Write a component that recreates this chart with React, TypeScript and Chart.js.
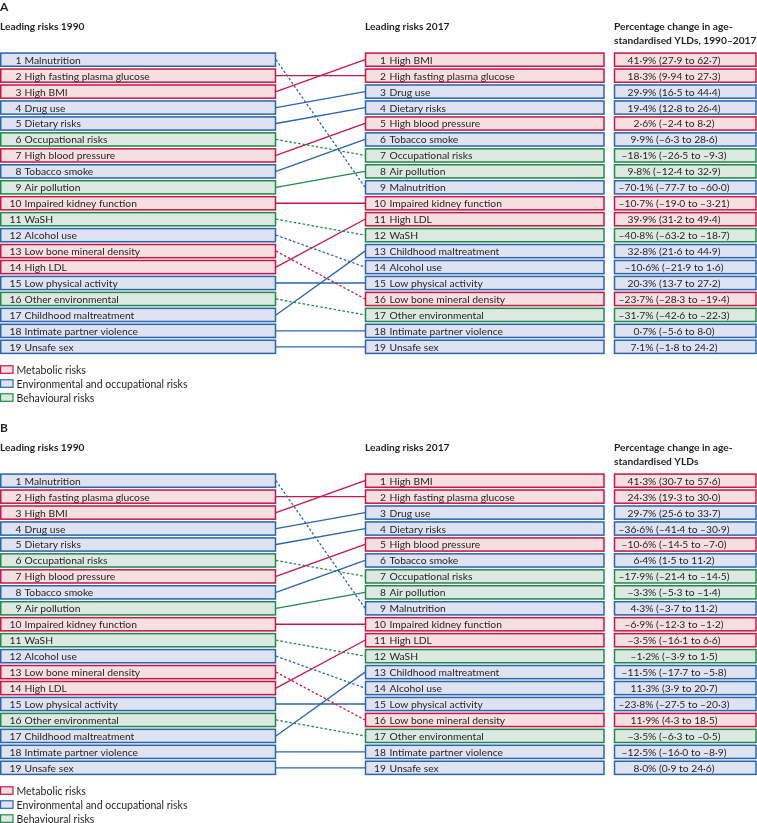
import React, { useEffect, useRef } from 'react';
import { Chart, registerables } from 'chart.js';

Chart.register(...registerables);

// ---------- DATA ----------
const risks1990 = [
  'Malnutrition', 'High fasting plasma glucose', 'High BMI', 'Drug use', 'Dietary risks',
  'Occupational risks', 'High blood pressure', 'Tobacco smoke', 'Air pollution',
  'Impaired kidney function', 'WaSH', 'Alcohol use', 'Low bone mineral density', 'High LDL',
  'Low physical activity', 'Other environmental', 'Childhood maltreatment',
  'Intimate partner violence', 'Unsafe sex',
];

const risks2017 = [
  'High BMI', 'High fasting plasma glucose', 'Drug use', 'Dietary risks', 'High blood pressure',
  'Tobacco smoke', 'Occupational risks', 'Air pollution', 'Malnutrition',
  'Impaired kidney function', 'High LDL', 'WaSH', 'Childhood maltreatment', 'Alcohol use',
  'Low physical activity', 'Low bone mineral density', 'Other environmental',
  'Intimate partner violence', 'Unsafe sex',
];

// colour groups as drawn in the figure
const redRisks = [
  'High fasting plasma glucose', 'High BMI', 'High blood pressure', 'Impaired kidney function',
  'Low bone mineral density', 'High LDL',
];
const greenRisks = ['Occupational risks', 'Air pollution', 'WaSH', 'Other environmental'];
// everything else is blue

const legendLabels = ['Metabolic risks', 'Environmental and occupational risks', 'Behavioural risks'];

// Panel A: percentage change 1990–2017 (2017 rank order)
const pctA = ['41.9', '18.3', '29.9', '19.4', '2.6', '9.9', '-18.1', '9.8', '-70.1', '-10.7',
  '39.9', '-40.8', '32.8', '-10.6', '20.3', '-23.7', '-31.7', '0.7', '7.1'];
const lowA = ['27.9', '9.94', '16.5', '12.8', '-2.4', '-6.3', '-26.5', '-12.4', '-77.7', '-19.0',
  '31.2', '-63.2', '21.6', '-21.9', '13.7', '-28.3', '-42.6', '-5.6', '-1.8'];
const highA = ['62.7', '27.3', '44.4', '26.4', '8.2', '28.6', '-9.3', '32.9', '-60.0', '-3.21',
  '49.4', '-18.7', '44.9', '1.6', '27.2', '-19.4', '-22.3', '8.0', '24.2'];

// Panel B
const pctB = ['41.3', '24.3', '29.7', '-36.6', '-10.6', '6.4', '-17.9', '-3.3', '4.3', '-6.9',
  '-3.5', '-1.2', '-11.5', '11.3', '-23.8', '11.9', '-3.5', '-12.5', '8.0'];
const lowB = ['30.7', '19.3', '25.6', '-41.4', '-14.5', '1.5', '-21.4', '-5.3', '-3.7', '-12.3',
  '-16.1', '-3.9', '-17.7', '3.9', '-27.5', '4.3', '-6.3', '-16.0', '0.9'];
const highB = ['57.6', '30.0', '33.7', '-30.9', '-7.0', '11.2', '-14.5', '-1.4', '11.2', '-1.2',
  '6.6', '1.5', '-5.8', '20.7', '-20.3', '18.5', '-0.5', '-8.9', '24.6'];

// ---------- STYLE / LAYOUT ----------
const W = 757;
const COLORS: Record<string, { line: string; fill: string }> = {
  red: { line: '#c8174a', fill: '#f6dfe1' },
  blue: { line: '#2866b1', fill: '#dfe2f0' },
  green: { line: '#1f8a4c', fill: '#dde9e0' },
};
const legendColors = ['red', 'blue', 'green'];
const FONT = 'Lato, "Open Sans", sans-serif';

const LEFT_BOX = [0.75, 275.5];
const MID_BOX = [365.5, 604];
const RIGHT_BOX = [614.5, 756];
const LINE_X0 = 276;
const LINE_X1 = 365;

function groupOf(name: string) {
  if (redRisks.includes(name)) return 'red';
  if (greenRisks.includes(name)) return 'green';
  return 'blue';
}
function fmt(s: string) {
  return s.replace('.', '·').replace('-', '–');
}

interface PanelProps {
  letter: string;
  header3: string[];
  pct: string[];
  low: string[];
  high: string[];
  height: number;
}

function Panel({ letter, header3, pct, low, high, height }: PanelProps) {
  const ref = useRef<HTMLCanvasElement | null>(null);
  useEffect(() => {
    const canvas = ref.current!;
    const datasets = risks1990.map((name, i) => {
      const r1 = i + 1;
      const r2 = risks2017.indexOf(name) + 1;
      const g = groupOf(name);
      return {
        label: name,
        data: [{ x: LINE_X0, y: r1 }, { x: LINE_X1, y: r2 }],
        borderColor: COLORS[g].line,
        borderWidth: 1.3,
        borderDash: r2 > r1 ? [2.5, 2] : [],
        pointRadius: 0,
        clip: false as any,
        fill: false,
      };
    });

    const boxesPlugin = {
      id: 'boxes',
      afterDatasetsDraw(chart: any) {
        const ctx = chart.ctx as CanvasRenderingContext2D;
        const y = chart.scales.y;
        const step = Math.abs(y.getPixelForValue(2) - y.getPixelForValue(1));
        const h = step - 1.3;
        ctx.save();
        const drawBox = (x0: number, x1: number, yc: number, g: string) => {
          ctx.fillStyle = COLORS[g].fill;
          ctx.fillRect(x0, yc - h / 2, x1 - x0, h);
          ctx.strokeStyle = COLORS[g].line;
          ctx.lineWidth = 1.5;
          ctx.strokeRect(x0, yc - h / 2 + 0.75, x1 - x0, h - 1.5);
        };
        ctx.font = `10.3px ${FONT}`;
        ctx.textBaseline = 'alphabetic';
        risks1990.forEach((name, i) => {
          const yc = y.getPixelForValue(i + 1);
          drawBox(LEFT_BOX[0], LEFT_BOX[1], yc, groupOf(name));
          ctx.fillStyle = '#231f20';
          ctx.textAlign = 'right';
          ctx.fillText(String(i + 1), 21.5, yc + 4);
          ctx.textAlign = 'left';
          ctx.fillText(name, 24.5, yc + 4);
        });
        risks2017.forEach((name, i) => {
          const yc = y.getPixelForValue(i + 1);
          const g = groupOf(name);
          drawBox(MID_BOX[0], MID_BOX[1], yc, g);
          drawBox(RIGHT_BOX[0], RIGHT_BOX[1], yc, g);
          ctx.fillStyle = '#231f20';
          ctx.textAlign = 'right';
          ctx.fillText(String(i + 1), 386, yc + 4);
          ctx.textAlign = 'left';
          ctx.fillText(name, 389.5, yc + 4);
          ctx.textAlign = 'center';
          ctx.fillText(`${fmt(pct[i])}% (${fmt(low[i])} to ${fmt(high[i])})`, 674, yc + 4);
        });
        // headers
        ctx.textAlign = 'left';
        ctx.fillStyle = '#231f20';
        ctx.font = `bold 12px ${FONT}`;
        ctx.fillText(letter, 0, 11);
        ctx.font = `bold 10.2px ${FONT}`;
        ctx.fillText('Leading risks 1990', 0, 29.5);
        ctx.fillText('Leading risks 2017', 365, 29.5);
        ctx.fillText(header3[0], 614, 29.5);
        ctx.fillText(header3[1], 614, 43.5);
        // legend
        const ly = y.getPixelForValue(19.5) + 11;
        ctx.font = `10.5px ${FONT}`;
        legendLabels.forEach((lab, k) => {
          const top = ly + k * 14;
          const c = COLORS[legendColors[k]];
          ctx.fillStyle = c.fill;
          ctx.fillRect(0.6, top, 12.4, 7.5);
          ctx.strokeStyle = c.line;
          ctx.lineWidth = 1.2;
          ctx.strokeRect(0.6, top, 12.4, 7.5);
          ctx.fillStyle = '#231f20';
          ctx.fillText(lab, 16.5, top + 8);
        });
        ctx.restore();
      },
    };

    const chart = new Chart(canvas, {
      type: 'line',
      data: { datasets: datasets as any },
      options: {
        responsive: false,
        animation: false,
        layout: { padding: { top: 51.7, bottom: height - 354.8, left: 0, right: 0 } },
        scales: {
          x: { type: 'linear', min: 0, max: W, display: false },
          y: { type: 'linear', min: 0.5, max: 19.5, reverse: true, display: false },
        },
        plugins: { legend: { display: false }, tooltip: { enabled: false } },
      },
      plugins: [boxesPlugin],
    });
    return () => chart.destroy();
  }, []);
  return <canvas ref={ref} width={W} height={height} style={{ display: 'block', width: W, height }} />;
}

export default function App() {
  useEffect(() => {
    document.body.style.margin = '0';
  }, []);
  return (
    <div style={{ width: W, background: '#fff' }}>
      <Panel letter="A" header3={['Percentage change in age-', 'standardised YLDs, 1990–2017']}
        pct={pctA} low={lowA} high={highA} height={421} />
      <Panel letter="B" header3={['Percentage change in age-', 'standardised YLDs']}
        pct={pctB} low={lowB} high={highB} height={402} />
    </div>
  );
}
